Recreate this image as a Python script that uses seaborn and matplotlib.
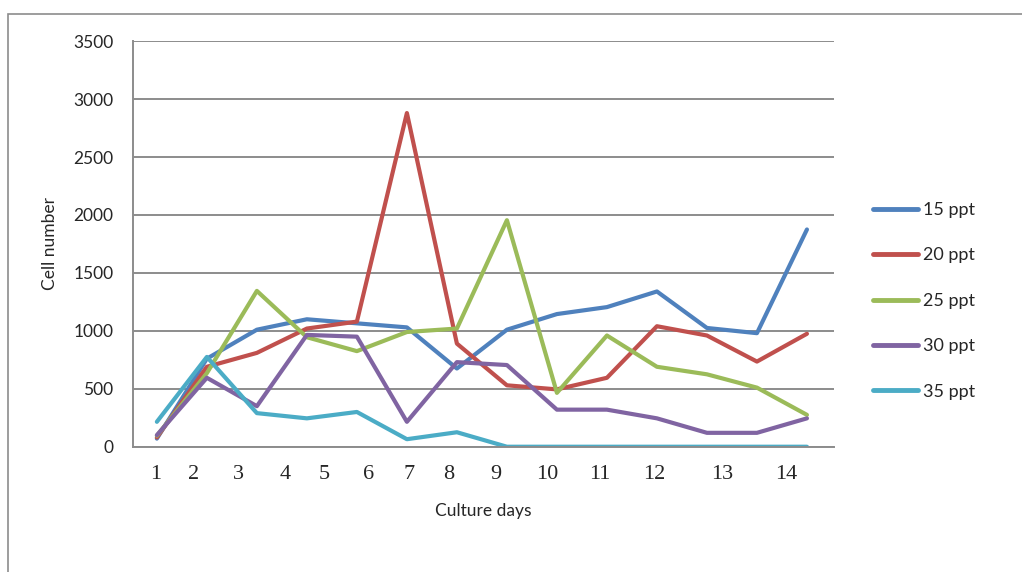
import numpy as np
import pandas as pd
import seaborn as sns
import matplotlib.pyplot as plt
from matplotlib.patches import Rectangle

# data (14 culture days)
days = list(range(1, 15))
series_names = ['15 ppt', '20 ppt', '25 ppt', '30 ppt', '35 ppt']
ppt15 = [70, 760, 1010, 1100, 1065, 1030, 675, 1010, 1145, 1205, 1340, 1025, 980, 1875]
ppt20 = [80, 690, 810, 1020, 1080, 2880, 890, 530, 495, 595, 1040, 960, 735, 975]
ppt25 = [95, 635, 1345, 945, 825, 990, 1020, 1955, 465, 960, 690, 625, 510, 275]
ppt30 = [100, 595, 350, 965, 950, 215, 730, 705, 320, 320, 245, 120, 120, 245]
ppt35 = [215, 775, 290, 245, 300, 65, 125, 0, 0, 0, 0, 0, 0, 0]
day_labels = [str(d) for d in days]
y_ticks = [0, 500, 1000, 1500, 2000, 2500, 3000, 3500]

colors = ['#4F81BD', '#C0504D', '#9BBB59', '#8064A2', '#4BACC6']

# the day labels in the original sit a bit off the data points
label_pos = [-0.02, 0.74, 1.64, 2.56, 3.34, 4.24, 5.04, 5.84, 6.78, 7.8, 8.86, 9.94, 11.3, 12.58]

rows = []
for name, vals in zip(series_names, [ppt15, ppt20, ppt25, ppt30, ppt35]):
    for i, v in enumerate(vals):
        rows.append([i, v, name])
df = pd.DataFrame(rows, columns=['idx', 'cells', 'series'])

sns.set_style('white')
fig = plt.figure(figsize=(10.22, 5.72), dpi=100)
ax = fig.add_axes([0.130, 0.219, 0.686, 0.709])

sns.lineplot(data=df, x='idx', y='cells', hue='series', hue_order=series_names,
             palette=colors, linewidth=3, ax=ax, legend=False)

ax.set_xlim(-0.48, 13.54)
ax.set_ylim(0, 3500)
ax.set_yticks(y_ticks)
ax.set_yticklabels([str(t) for t in y_ticks], family='Lato', fontsize=12.5)
ax.set_xticks(label_pos)
ax.set_xticklabels(day_labels, family='Liberation Serif', fontsize=16)
ax.tick_params(axis='both', length=0)
ax.tick_params(axis='x', pad=13)
ax.tick_params(axis='y', pad=14)
ax.yaxis.grid(True, color='#8c8c8c', linewidth=1.4)
ax.set_axisbelow(True)
for s in ['top', 'right']:
    ax.spines[s].set_visible(False)
for s in ['left', 'bottom']:
    ax.spines[s].set_color('#8c8c8c')
    ax.spines[s].set_linewidth(1.4)

ax.set_xlabel('Culture days', family='Lato', fontsize=12.5, labelpad=14)
ax.set_ylabel('Cell number', family='Lato', fontsize=12.5, labelpad=11)

handles = [plt.Line2D([], [], color=c, linewidth=3.5, solid_capstyle='round') for c in colors]
fig.legend(handles, series_names, loc='center left', bbox_to_anchor=(0.838, 0.474),
           frameon=False, prop={'family': 'Lato', 'size': 13},
           handlelength=2.5, labelspacing=1.63, handletextpad=0.3)

# outer chart frame
fig.patches.append(Rectangle((0.008, -0.05), 1.1, 1.026, transform=fig.transFigure,
                             fill=False, edgecolor='#8c8c8c', linewidth=1.2))

fig.savefig('out.png', dpi=100)
